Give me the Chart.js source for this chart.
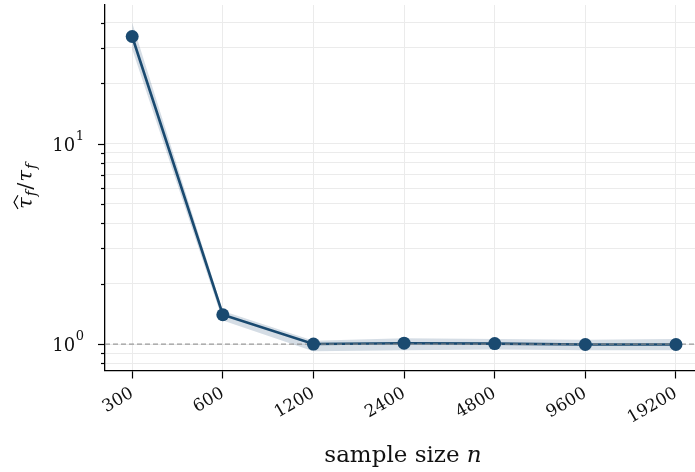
<!DOCTYPE html>
<html>
<head>
<meta charset="utf-8">
<script src="https://cdn.jsdelivr.net/npm/chart.js@4/dist/chart.umd.min.js"></script>
<style>
  html, body { margin: 0; padding: 0; background: #fff; }
  #wrap { width: 695px; height: 472px; }
</style>
</head>
<body>
<div id="wrap"><canvas id="ratioChart"></canvas></div>
<script>
// sample sizes on the x axis
const categories = ['300', '600', '1200', '2400', '4800', '9600', '19200'];
// estimated / true ratio, with its spread band
const ratio = [34.2, 1.40, 1.00, 1.01, 1.005, 0.995, 0.995];
const ratioUpper = [40.0, 1.46, 1.04, 1.07, 1.06, 1.05, 1.06];
const ratioLower = [29.5, 1.31, 0.92, 0.93, 0.94, 0.93, 0.93];
// log axis ticks
const yMajor = [1, 10];
const yMinor = [0.8, 0.9, 2, 3, 4, 5, 6, 7, 8, 9, 20, 30, 40];
const refLevel = 1;

const lineColor = '#1a4a70';
const serif = '"DejaVu Serif", serif';

const toPoints = arr => arr.map((v, i) => ({ x: i, y: v }));

const decor = {
  id: 'decor',
  beforeDatasetDraw(chart, args) {
    if (args.index !== 0) return;
    // dashed reference line at 1, over the curve but under the markers
    const { ctx, chartArea } = chart;
    const y = chart.scales.y.getPixelForValue(refLevel);
    ctx.save();
    ctx.strokeStyle = 'rgba(140, 140, 140, 0.85)';
    ctx.lineWidth = 1.3;
    ctx.setLineDash([5, 3]);
    ctx.beginPath();
    ctx.moveTo(chartArea.left, y);
    ctx.lineTo(chartArea.right, y);
    ctx.stroke();
    ctx.restore();
  },
  afterDraw(chart) {
    const { ctx, chartArea } = chart;
    const ys = chart.scales.y;
    const left = chartArea.left;
    ctx.save();
    ctx.strokeStyle = '#000';
    ctx.lineWidth = 1.2;
    yMinor.forEach(v => {
      const y = Math.round(ys.getPixelForValue(v)) + 0.5;
      ctx.beginPath(); ctx.moveTo(left - 4, y); ctx.lineTo(left, y); ctx.stroke();
    });
    yMajor.forEach(v => {
      const y = Math.round(ys.getPixelForValue(v)) + 0.5;
      ctx.beginPath(); ctx.moveTo(left - 7, y); ctx.lineTo(left, y); ctx.stroke();
    });

    // y tick labels 10^k
    ctx.fillStyle = '#111';
    ctx.textBaseline = 'alphabetic';
    yMajor.forEach(v => {
      const y = ys.getPixelForValue(v);
      const exp = String(Math.round(Math.log10(v)));
      ctx.font = '13px ' + serif;
      const ew = ctx.measureText(exp).width;
      ctx.textAlign = 'left';
      const right = left - 21;
      ctx.fillText(exp, right - ew, y - 4);
      ctx.font = '18px ' + serif;
      ctx.textAlign = 'right';
      ctx.fillText('10', right - ew - 0.5, y + 7);
    });

    // x axis title
    const fs = 23;
    ctx.font = fs + 'px ' + serif;
    const t1 = 'sample size ';
    const w1 = ctx.measureText(t1).width;
    ctx.font = 'italic ' + fs + 'px ' + serif;
    const w2 = ctx.measureText('n').width;
    const cx = (chartArea.left + chartArea.right) / 2 + 3;
    const x0 = cx - (w1 + w2) / 2;
    ctx.textAlign = 'left';
    ctx.font = fs + 'px ' + serif;
    ctx.fillText(t1, x0, 462);
    ctx.font = 'italic ' + fs + 'px ' + serif;
    ctx.fillText('n', x0 + w1, 462);

    // y axis title: tau-hat_f / tau_f
    ctx.translate(32, (chartArea.top + chartArea.bottom) / 2 - 2);
    ctx.rotate(-Math.PI / 2);
    const parts = [
      { t: 'τ', f: 'italic 21px ', dy: 0, hat: true },
      { t: 'f', f: 'italic 15px ', dy: 4 },
      { t: '/', f: '21px ', dy: 0 },
      { t: 'τ', f: 'italic 21px ', dy: 0 },
      { t: 'f', f: 'italic 15px ', dy: 4 }
    ];
    let total = 0;
    parts.forEach(p => { ctx.font = p.f + serif; p.w = ctx.measureText(p.t).width; total += p.w + 1; });
    let px = -total / 2;
    parts.forEach(p => {
      ctx.font = p.f + serif;
      ctx.fillText(p.t, px, p.dy);
      if (p.hat) {
        ctx.lineWidth = 1.1;
        ctx.beginPath();
        ctx.moveTo(px, -14);
        ctx.lineTo(px + p.w / 2 + 1, -18);
        ctx.lineTo(px + p.w + 2, -14);
        ctx.stroke();
      }
      px += p.w + 1;
    });
    ctx.restore();
  }
};

new Chart(document.getElementById('ratioChart'), {
  type: 'line',
  data: {
    datasets: [
      {
        // markers on top
        data: toPoints(ratio),
        showLine: false,
        pointRadius: 6.5,
        pointBorderWidth: 0,
        pointBackgroundColor: lineColor,
        borderColor: lineColor
      },
      {
        data: toPoints(ratio),
        borderColor: lineColor,
        borderWidth: 2.6,
        pointRadius: 0,
        fill: false
      },
      {
        data: toPoints(ratioUpper),
        borderWidth: 0,
        pointRadius: 0,
        backgroundColor: 'rgba(45, 85, 125, 0.2)',
        fill: '+1'
      },
      {
        data: toPoints(ratioLower),
        borderWidth: 0,
        pointRadius: 0,
        fill: false
      }
    ]
  },
  options: {
    responsive: true,
    maintainAspectRatio: false,
    animation: false,
    layout: { autoPadding: false, padding: { top: 5, right: 0, left: 0, bottom: 0 } },
    plugins: {
      legend: { display: false },
      tooltip: { enabled: false }
    },
    scales: {
      x: {
        type: 'linear',
        min: -0.3,
        max: 6.21,
        afterBuildTicks: s => { s.ticks = categories.map((c, i) => ({ value: i })); },
        afterFit: s => { s.height = 101.5; s.paddingLeft = 0; s.paddingRight = 0; },
        ticks: {
          callback: v => categories[v],
          minRotation: 30,
          maxRotation: 30,
          padding: 5,
          color: '#111',
          font: { family: serif, size: 17 }
        },
        grid: {
          color: '#ebebeb',
          lineWidth: 1,
          tickColor: '#000',
          tickLength: 8,
          tickWidth: 1.2
        },
        border: { display: true, color: '#000', width: 1.3 }
      },
      y: {
        type: 'logarithmic',
        bounds: 'data',
        min: 0.738,
        max: 49.1,
        afterBuildTicks: s => {
          s.ticks = yMinor.concat(yMajor).sort((a, b) => a - b).map(v => ({ value: v }));
        },
        afterFit: s => { s.width = 105; s.paddingTop = 0; s.paddingBottom = 0; },
        ticks: { display: false },
        grid: { color: '#ebebeb', lineWidth: 1, drawTicks: false },
        border: { display: true, color: '#000', width: 1.3 }
      }
    }
  },
  plugins: [decor]
});
</script>
</body>
</html>
